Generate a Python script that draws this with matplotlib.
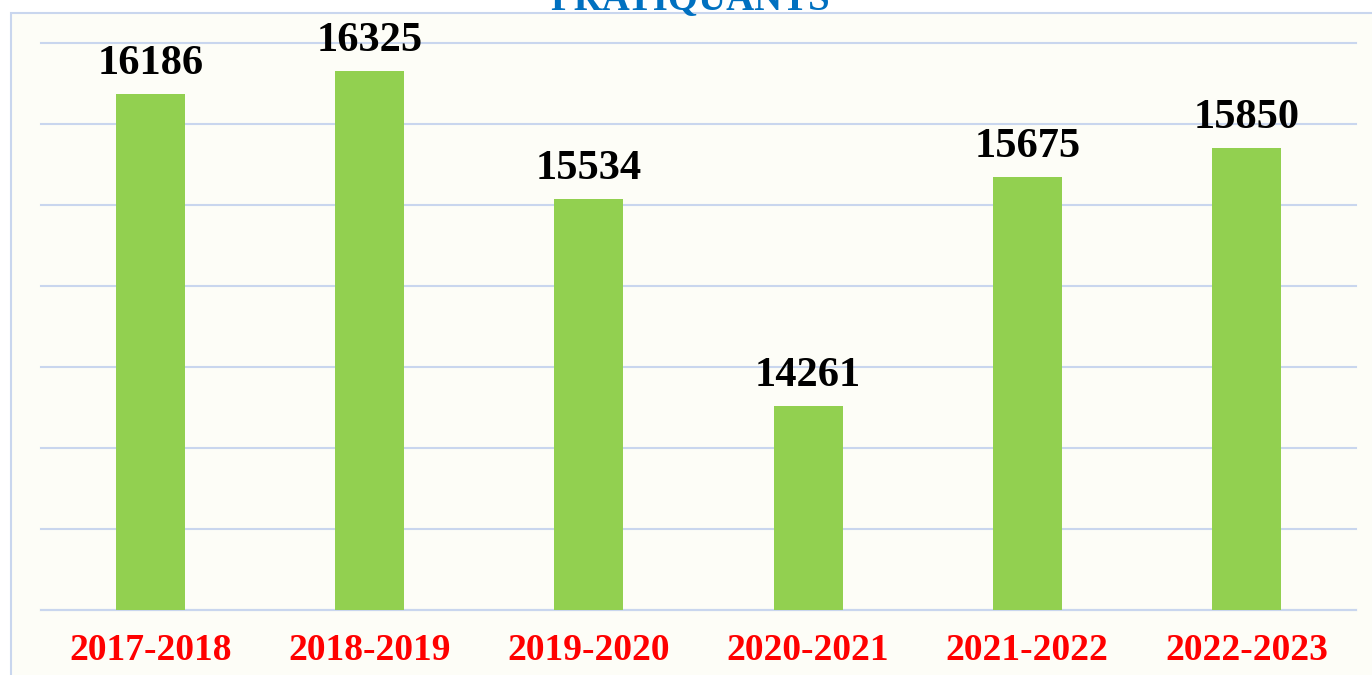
import matplotlib.pyplot as plt
from matplotlib.patches import Rectangle

seasons = ['2017-2018', '2018-2019', '2019-2020', '2020-2021', '2021-2022', '2022-2023']
pratiquants = [16186, 16325, 15534, 14261, 15675, 15850]

bar_color = '#92D050'
grid_color = '#C9D6EE'
bg_color = '#FDFDF7'
serif = ['Liberation Serif', 'DejaVu Serif']

fig = plt.figure(figsize=(13.72, 6.75), dpi=100, facecolor='white')

# panel background with thin border (cut off at right and bottom)
fig.patches.append(Rectangle((11 / 1372, -0.1), 1.2, 1.1 - 13 / 675,
                             transform=fig.transFigure, facecolor=bg_color,
                             edgecolor=grid_color, linewidth=1.5, zorder=-1))

ax = fig.add_axes([41 / 1372, 65 / 675, 1315 / 1372, 567 / 675])
ax.set_facecolor('none')
ax.set_zorder(1)

x = range(len(seasons))
ax.bar(x, pratiquants, width=0.315, color=bar_color, zorder=3)

ax.set_xlim(-0.5, len(seasons) - 0.5)
ax.set_ylim(13000, 16500)
ax.set_yticks(range(13000, 16501, 500))
ax.yaxis.grid(True, color=grid_color, linewidth=1.5, zorder=0)
for gl in ax.get_ygridlines():
    gl.set_clip_on(False)
ax.set_axisbelow(True)
ax.tick_params(axis='y', left=False, labelleft=False)
ax.tick_params(axis='x', bottom=False, pad=13)
for s in ['top', 'right', 'left']:
    ax.spines[s].set_visible(False)
ax.spines['bottom'].set_color(grid_color)
ax.spines['bottom'].set_linewidth(1.5)

ax.set_xticks(list(x))
ax.set_xticklabels(seasons, fontsize=27, fontweight='bold', color='#FF0000', family=serif)

for xi, v in zip(x, pratiquants):
    ax.annotate(str(v), (xi, v), xytext=(0, 14.5), textcoords='offset points',
                ha='center', va='baseline', fontsize=30.5, fontweight='bold',
                color='black', family=serif, zorder=4)

fig.text(690 / 1372, 1 - 9 / 675, 'PRATIQUANTS', ha='center', va='baseline',
         fontsize=28, fontweight='bold', color='#0070C0', family=serif, zorder=5)

fig.savefig('out.png', dpi=100, facecolor=fig.get_facecolor())
